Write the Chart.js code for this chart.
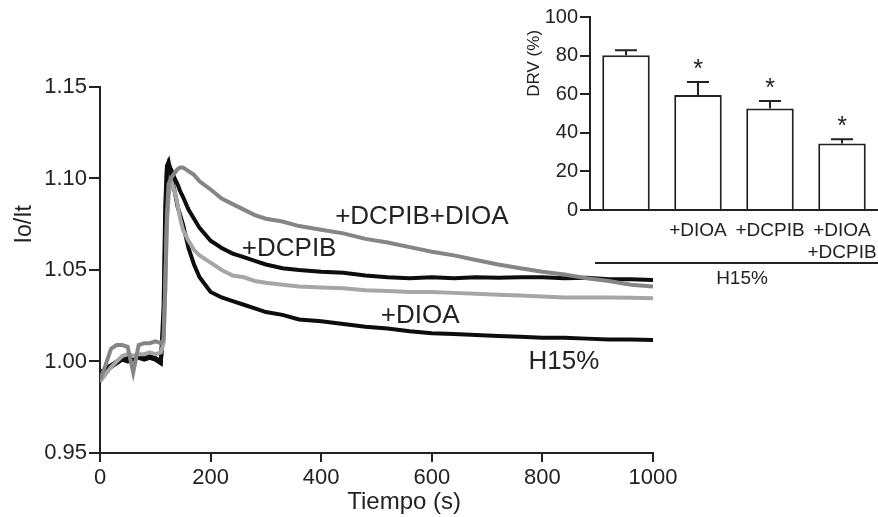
<!DOCTYPE html>
<html>
<head>
<meta charset="utf-8">
<script src="https://cdn.jsdelivr.net/npm/chart.js@4.4.1/dist/chart.umd.min.js"></script>
<style>
  html, body { margin: 0; padding: 0; background: #fff; overflow: hidden; }
  #wrap { position: relative; width: 878px; height: 517px; }
  #main { position: absolute; left: 0; top: 0; }
  #inset { position: absolute; left: 500px; top: 0; }
</style>
</head>
<body>
<div id="wrap">
  <canvas id="main" width="878" height="517"></canvas>
  <canvas id="inset" width="378" height="300"></canvas>
</div>
<script>
const TIME = [
    0, 10, 20, 30, 40, 50, 60, 70, 80, 90,
    100, 110, 115, 118, 121, 124, 127, 130, 135, 140,
    145, 150, 160, 170, 180, 200, 220, 240, 260, 280,
    300, 330, 360, 400, 440, 480, 520, 560, 600, 640,
    680, 720, 760, 800, 840, 880, 920, 960, 1000,
];

const H15 = [
    0.994, 0.996, 0.998, 1.000, 1.001, 1.000, 1.003, 1.002, 1.001, 1.002,
    1.001, 0.999, 1.030, 1.085, 1.107, 1.109, 1.104, 1.100, 1.093, 1.085,
    1.080, 1.075, 1.062, 1.053, 1.046, 1.038, 1.035, 1.033, 1.031, 1.029,
    1.027, 1.0255, 1.023, 1.022, 1.0205, 1.019, 1.018, 1.0165, 1.0155, 1.015,
    1.0145, 1.014, 1.0135, 1.013, 1.013, 1.0125, 1.012, 1.012, 1.0118,
];

const DIOA = [
    0.989, 0.993, 0.997, 1.000, 1.003, 1.004, 1.003, 1.004, 1.004, 1.005,
    1.004, 1.005, 1.010, 1.040, 1.075, 1.090, 1.096, 1.0975, 1.093, 1.086,
    1.078, 1.072, 1.066, 1.061, 1.058, 1.054, 1.050, 1.047, 1.046, 1.044,
    1.043, 1.042, 1.041, 1.0405, 1.040, 1.039, 1.0385, 1.038, 1.038, 1.0375,
    1.037, 1.0365, 1.036, 1.0355, 1.035, 1.035, 1.035, 1.0348, 1.0345,
];

const DCPIB = [
    0.993, 0.995, 0.997, 0.999, 1.001, 1.002, 1.001, 1.003, 1.002, 1.003,
    1.002, 1.000, 1.020, 1.070, 1.104, 1.108, 1.106, 1.104, 1.100, 1.097,
    1.093, 1.090, 1.083, 1.078, 1.073, 1.066, 1.062, 1.059, 1.057, 1.055,
    1.053, 1.051, 1.050, 1.049, 1.0485, 1.047, 1.046, 1.0455, 1.046, 1.0455,
    1.046, 1.0457, 1.046, 1.046, 1.0455, 1.0458, 1.045, 1.045, 1.0446,
];

const DCPIB_DIOA = [
    0.990, 0.998, 1.007, 1.009, 1.009, 1.008, 0.994, 1.009, 1.010, 1.010,
    1.011, 1.010, 1.012, 1.040, 1.080, 1.097, 1.099, 1.101, 1.103, 1.105,
    1.106, 1.106, 1.104, 1.102, 1.0985, 1.094, 1.089, 1.086, 1.083, 1.080,
    1.078, 1.0765, 1.074, 1.072, 1.070, 1.067, 1.065, 1.0625, 1.060, 1.058,
    1.0555, 1.053, 1.051, 1.049, 1.0475, 1.0455, 1.044, 1.042, 1.041,
];

const X_TICKS = [0, 200, 400, 600, 800, 1000];
const Y_TICKS = [0.95, 1.00, 1.05, 1.10, 1.15];

const DRV_LABELS = ['', '+DIOA', '+DCPIB', ['+DIOA', '+DCPIB']];
const DRV_MEAN   = [80.2, 59.6, 52.6, 34.5];
const DRV_SEM    = [2.6, 6.7, 3.9, 2.1];
const DRV_SIG    = ['', '*', '*', '*'];
const DRV_TICKS  = [0, 20, 40, 60, 80, 100];

const INK = '#222';
const FONT = '"Liberation Sans", Arial, Helvetica, sans-serif';
Chart.defaults.font.family = FONT;
Chart.defaults.color = INK;

function trace(values, color) {
    return {
        data: TIME.map((t, i) => ({ x: t, y: values[i] })),
        borderColor: color,
        borderWidth: 4,
        pointRadius: 0,
        tension: 0,
        fill: false,
    };
}

const traceLabels = {
    id: 'traceLabels',
    afterDraw(chart) {
        const { ctx, scales: { x, y }, chartArea } = chart;
        ctx.save();
        ctx.fillStyle = INK;
        ctx.textAlign = 'center';
        ctx.textBaseline = 'middle';
        ctx.font = `26px ${FONT}`;
        [
            ['+DCPIB+DIOA', 582, 1.0792],
            ['+DCPIB', 342, 1.0617],
            ['+DIOA', 579, 1.0251],
            ['H15%', 839, 1.0000],
        ].forEach(([txt, tx, ty]) => ctx.fillText(txt, x.getPixelForValue(tx), y.getPixelForValue(ty)));

        ctx.font = `24px ${FONT}`;
        ctx.fillText('Tiempo (s)', x.getPixelForValue(550), chartArea.bottom + 49);

        ctx.translate(25, y.getPixelForValue(1.075));
        ctx.rotate(-Math.PI / 2);
        ctx.font = `23px ${FONT}`;
        ctx.fillText('Io/It', 0, 0);
        ctx.restore();
    },
};

new Chart(document.getElementById('main'), {
    type: 'line',
    data: {
        datasets: [
            trace(DCPIB_DIOA, '#858585'),
            trace(DIOA, '#a6a6a6'),
            trace(DCPIB, '#0d0d0d'),
            trace(H15, '#0d0d0d'),
        ],
    },
    options: {
        responsive: false,
        animation: false,
        layout: { padding: { top: 87, right: 225, left: 0, bottom: 0 } },
        plugins: { legend: { display: false }, tooltip: { enabled: false } },
        scales: {
            x: {
                type: 'linear',
                min: 0,
                max: 1000,
                afterBuildTicks: s => { s.ticks = X_TICKS.map(v => ({ value: v })); },
                afterFit: s => { s.height = 64; },
                ticks: { font: { size: 22 }, padding: 3, maxRotation: 0, color: INK, callback: v => String(v) },
                grid: { drawOnChartArea: false, color: INK, lineWidth: 2, tickLength: 9 },
                border: { color: INK, width: 2 },
            },
            y: {
                min: 0.95,
                max: 1.15,
                afterBuildTicks: s => { s.ticks = Y_TICKS.map(v => ({ value: v })); },
                afterFit: s => { s.width = 100; },
                ticks: { font: { size: 22 }, padding: 2, color: INK, callback: v => v.toFixed(2) },
                grid: { drawOnChartArea: false, color: INK, lineWidth: 2, tickLength: 11 },
                border: { color: INK, width: 2 },
            },
        },
    },
    plugins: [traceLabels],
});

const errorBars = {
    id: 'errorBars',
    afterDatasetsDraw(chart) {
        const { ctx, scales: { y }, chartArea } = chart;
        const bars = chart.getDatasetMeta(0).data;
        ctx.save();
        ctx.strokeStyle = INK;
        ctx.fillStyle = INK;
        ctx.lineWidth = 2;
        ctx.textAlign = 'center';
        ctx.textBaseline = 'middle';
        bars.forEach((bar, i) => {
            const top = y.getPixelForValue(DRV_MEAN[i] + DRV_SEM[i]);
            ctx.beginPath();
            ctx.moveTo(bar.x, bar.y);
            ctx.lineTo(bar.x, top);
            ctx.moveTo(bar.x - 11, top);
            ctx.lineTo(bar.x + 11, top);
            ctx.stroke();
            if (DRV_SIG[i]) {
                ctx.font = `25px ${FONT}`;
                ctx.fillText(DRV_SIG[i], bar.x, top - 12);
            }
        });

        const lineY = chartArea.bottom + 53;
        ctx.beginPath();
        ctx.moveTo(95, lineY);
        ctx.lineTo(chart.width, lineY);
        ctx.stroke();
        ctx.font = `19px ${FONT}`;
        ctx.fillText('H15%', 242, lineY + 16);

        ctx.translate(34, y.getPixelForValue(76));
        ctx.rotate(-Math.PI / 2);
        ctx.font = `17px ${FONT}`;
        ctx.fillText('DRV (%)', 0, 0);
        ctx.restore();
    },
};

new Chart(document.getElementById('inset'), {
    type: 'bar',
    data: {
        labels: DRV_LABELS,
        datasets: [{
            data: DRV_MEAN,
            backgroundColor: '#fff',
            borderColor: INK,
            borderWidth: 2,
            barPercentage: 0.66,
            categoryPercentage: 1,
        }],
    },
    options: {
        responsive: false,
        animation: false,
        layout: { padding: { top: 17, right: 0, left: 0, bottom: 0 } },
        plugins: { legend: { display: false }, tooltip: { enabled: false } },
        scales: {
            x: {
                afterFit: s => { s.height = 90; },
                ticks: { font: { size: 19 }, padding: 1, maxRotation: 0, autoSkip: false, color: INK },
                grid: { display: false },
                border: { color: INK, width: 2 },
            },
            y: {
                min: 0,
                max: 100,
                afterBuildTicks: s => { s.ticks = DRV_TICKS.map(v => ({ value: v })); },
                afterFit: s => { s.width = 90; },
                ticks: { font: { size: 20 }, padding: 2, color: INK },
                grid: { drawOnChartArea: false, color: INK, lineWidth: 2, tickLength: 10 },
                border: { color: INK, width: 2 },
            },
        },
    },
    plugins: [errorBars],
});
</script>
</body>
</html>
